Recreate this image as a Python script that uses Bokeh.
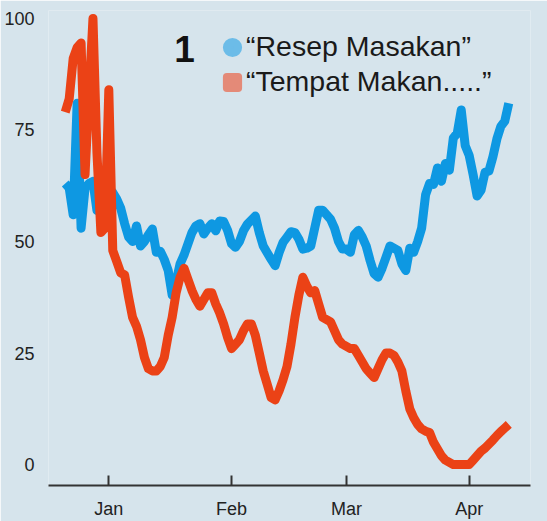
import pandas as pd
from bokeh.plotting import figure
from bokeh.models import (Range1d, FixedTicker, DatetimeTickFormatter, Legend,
                          LegendItem, Label, ColumnDataSource)
from bokeh.embed import file_html
from bokeh.resources import INLINE

# ---- data ----
start_date = "2019-12-21"
end_date = "2020-04-11"

resep_masakan = [
    # Dec 21-31
    63, 62, 56, 81, 53, 62, 63, 63.5, 57, 58, 60,
    # Jan
    62, 61, 59.5, 57.5, 54, 51, 50, 53.5, 49, 50, 51.5, 52.8, 47.6, 47.8, 46, 43.5,
    38, 41, 45, 47, 49.5, 52, 53.5, 54, 51.7, 53, 54, 52.4, 54.6, 54.5, 52.5,
    # Feb
    49.5, 48.7, 50, 52.4, 53.9, 54.8, 55.7, 52, 49, 47.5, 46, 44.6, 47.5, 49.8, 51,
    52.2, 52, 50.5, 48.3, 48.5, 49, 53, 57, 57, 56, 55, 53, 50, 48.3,
    # Mar
    48.3, 47.6, 51.5, 52.5, 51, 49, 45.7, 42.8, 42, 44, 46.5, 49, 48.5, 48, 45, 43.5,
    48.5, 47.6, 50, 53, 60.5, 63, 62.8, 66.5, 63.5, 67.5, 66, 73.2, 74.3, 79.5, 71.5,
    # Apr 1-11
    69.3, 65, 60.2, 61.5, 65.5, 65.8, 69, 73, 75.8, 77, 81,
]

tempat_makan = [
    # Dec 21-31
    79, 82, 91, 93.5, 94.5, 65, 83, 100, 70, 52, 53,
    # Jan
    84, 48, 45.5, 43, 42.5, 37.5, 33, 31, 28, 24, 21.5, 21, 21, 22, 24, 29,
    33, 38.5, 42, 44, 41.5, 39, 37, 35.5, 37, 38.5, 38.5, 36, 34, 31.5, 28.5,
    # Feb
    26, 27, 28, 30, 31.5, 31.5, 29, 25, 21, 18, 15, 14.5, 16.5, 19, 22,
    27, 33, 38, 42, 40, 38.5, 39, 36, 33, 32.5, 32, 30, 28, 27,
    # Mar
    26.5, 26, 26, 24.5, 23, 21.5, 20.5, 19.5, 21.5, 23.5, 25, 25, 24.5, 23, 21, 16.5,
    12.5, 10.5, 9, 8, 7.5, 7.2, 5, 3.5, 2, 1, 0.5, 0, 0, 0, 0,
    # Apr 1-11
    0, 1, 2, 3, 3.7, 4.6, 5.5, 6.5, 7.4, 8.2, 9,
]

month_ticks = ["2020-01-01", "2020-02-01", "2020-03-01", "2020-04-01"]
y_ticks = [0, 25, 50, 75, 100]
labels = ["\u201cResep Masakan\u201d", "\u201cTempat Makan.....\u201d"]

dates = pd.date_range(start_date, end_date, freq="D")
src = ColumnDataSource(dict(date=dates, resep=resep_masakan, tempat=tempat_makan))

BG = "#d6e4ec"
BLUE = "#0e98e2"
RED = "#eb4216"
FONT = "Liberation Sans"

x_start = pd.Timestamp("2019-12-16 18:30")
x_end = pd.Timestamp("2020-04-16 11:45")

p = figure(width=547, height=521, x_axis_type="datetime",
           x_range=Range1d(x_start, x_end), y_range=Range1d(-4.68, 101.78),
           output_backend="svg", toolbar_location=None,
           min_border_left=48, min_border_right=17, min_border_top=10,
           min_border_bottom=33)
p.background_fill_color = BG
p.border_fill_color = BG
p.outline_line_color = None
p.grid.visible = False

r_blue = p.line("date", "resep", source=src, line_color=BLUE, line_width=9,
                line_join="round")
r_red = p.line("date", "tempat", source=src, line_color=RED, line_width=9,
               line_join="round")

# x axis
xa = p.xaxis[0]
xa.ticker = FixedTicker(ticks=[pd.Timestamp(t).value / 1e6 for t in month_ticks])
xa.formatter = DatetimeTickFormatter(months="%b", days="%b", years="%b")
xa.axis_line_color = "#333333"
xa.axis_line_width = 2
xa.major_tick_line_color = "#333333"
xa.major_tick_line_width = 2
xa.major_tick_in = 10
xa.major_tick_out = 0
xa.minor_tick_line_color = None
xa.major_label_text_font = FONT
xa.major_label_text_font_size = "18px"
xa.major_label_text_color = "#222222"
xa.major_label_standoff = 13

# y axis
ya = p.yaxis[0]
ya.ticker = FixedTicker(ticks=y_ticks)
ya.axis_line_color = None
ya.major_tick_line_color = None
ya.minor_tick_line_color = None
ya.major_label_text_font = FONT
ya.major_label_text_font_size = "18px"
ya.major_label_text_color = "#222222"
ya.major_label_standoff = 8

# legend (marker-only renderers with no visible point in the plot)
d_blue = p.scatter(x=[x_start], y=[float("nan")], marker="circle",
                   fill_color="#6cbce8", line_color="#6cbce8", line_width=8,
                   line_join="round")
d_red = p.scatter(x=[x_start], y=[float("nan")], marker="square",
                  fill_color="#e48a78", line_color="#e48a78", line_width=8,
                  line_join="round")
legend = Legend(items=[LegendItem(label=labels[0], renderers=[d_blue]),
                       LegendItem(label=labels[1], renderers=[d_red])],
                location=(170, 386), orientation="vertical",
                glyph_width=28, glyph_height=28, label_height=35, spacing=0,
                label_standoff=0, padding=0, margin=0, border_line_color=None,
                background_fill_alpha=0,
                label_text_font=FONT, label_text_font_size="28.5px",
                label_text_color="#1a1a1a")
p.add_layout(legend)

p.add_layout(Label(x=136, y=436.5, x_units="screen", y_units="screen", text="1",
                   text_font=FONT, text_font_size="37px", text_font_style="bold",
                   text_align="center", text_baseline="middle",
                   text_color="#111111"))

open("out.html", "w").write(file_html(p, INLINE))
